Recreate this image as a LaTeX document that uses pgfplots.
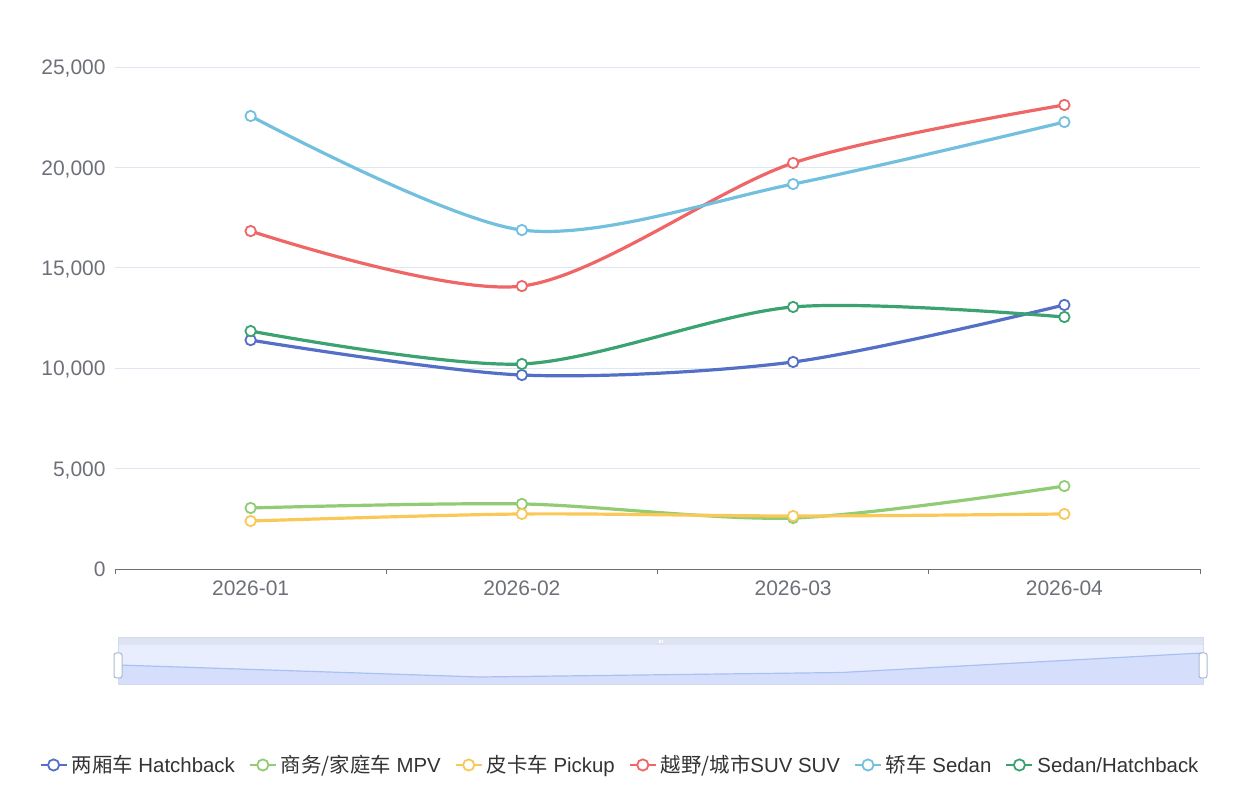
\documentclass[border=0pt]{standalone}
\usepackage{pgfplots}
\pgfplotsset{compat=1.18}
\usepackage{fontspec}
\setmainfont{Liberation Sans}
\newfontfamily\cjk{Noto Sans CJK SC}
\definecolor{cA}{HTML}{5470C6}
\definecolor{cB}{HTML}{91CC75}
\definecolor{cC}{HTML}{FAC858}
\definecolor{cD}{HTML}{EE6666}
\definecolor{cE}{HTML}{73C0DE}
\definecolor{cF}{HTML}{3BA272}
\definecolor{axisgray}{HTML}{6E7079}
\definecolor{gridc}{HTML}{E0E6F1}
\definecolor{textc}{HTML}{333333}
\definecolor{dzbg}{HTML}{E8EEFD}
\definecolor{dzarea}{HTML}{D5DFFB}
\definecolor{dzline}{HTML}{A9C0F2}
\definecolor{dzstrip}{HTML}{DDE3F0}
\definecolor{dzborder}{HTML}{D2DBEE}
\definecolor{dzhandle}{HTML}{ACB8D1}
\begin{document}
\begin{tikzpicture}
\path[use as bounding box] (0,0) rectangle (630pt,399.5pt);
\begin{axis}[
  at={(57.5pt,115pt)}, anchor=south west,
  scale only axis, width=542.5pt, height=251pt,
  xmin=-0.5, xmax=3.5, ymin=0, ymax=25000,
  scaled y ticks=false,
  axis lines*=left,
  axis line style={-},
  y axis line style={draw=none},
  x axis line style={color=axisgray, line width=0.5pt},
  xtick={0,1,2,3},
  xticklabels={2026-01,2026-02,2026-03,2026-04},
  minor xtick={-0.5,0.5,1.5,2.5,3.5},
  major tick length=0pt,
  minor tick length=2.5pt,
  tick align=outside,
  x tick style={color=axisgray, line width=0.5pt},
  y tick style={draw=none},
  ytick={0,5000,10000,15000,20000,25000},
  yticklabels={0,{5,000},{10,000},{15,000},{20,000},{25,000}},
  ymajorgrids,
  major grid style={color=gridc, line width=0.5pt},
  tick label style={font=\fontsize{10.5}{12}\selectfont, text=axisgray},
  yticklabel style={inner sep=0pt, anchor=base east, xshift=-4.5pt, yshift=-3.8pt},
  xticklabel style={inner sep=0pt, anchor=north, yshift=-5.5pt},
  clip=false,
  legend columns=-1,
  legend style={at={(axis description cs:0.4664,-0.3904)}, anchor=center,
    draw=none, fill=none, font=\fontsize{10.2}{12}\selectfont, text=textc,
    /tikz/every even column/.append style={column sep=5pt}},
  legend image code/.code={
    \draw[line width=1pt] (0pt,0pt) -- (13pt,0pt);
    \draw[line width=0.9pt, fill=white] (6.5pt,0pt) circle (2.8pt);
  },
  every axis plot/.append style={line width=1.6pt, smooth, mark=*, mark size=2.6pt,
    mark options={fill=white, line width=0.9pt}},
]
\addplot[color=cA] coordinates {(0,11400) (1,9660) (2,10310) (3,13150)};
\addlegendentry{{\cjk 两厢车} Hatchback}
\addplot[color=cB] coordinates {(0,3040) (1,3240) (2,2540) (3,4130)};
\addlegendentry{{\cjk 商务/家庭车} MPV}
\addplot[color=cC] coordinates {(0,2390) (1,2740) (2,2640) (3,2740)};
\addlegendentry{{\cjk 皮卡车} Pickup}
\addplot[color=cD] coordinates {(0,16830) (1,14090) (2,20220) (3,23110)};
\addlegendentry{{\cjk 越野/城市}SUV SUV}
\addplot[color=cE] coordinates {(0,22560) (1,16880) (2,19170) (3,22260)};
\addlegendentry{{\cjk 轿车} Sedan}
\addplot[color=cF] coordinates {(0,11850) (1,10210) (2,13050) (3,12550)};
\addlegendentry{Sedan/Hatchback\vphantom{\cjk 车}}
\end{axis}
\begin{axis}[
  at={(59pt,57pt)}, anchor=south west,
  scale only axis, width=542.5pt, height=20pt,
  xmin=0, xmax=3, ymin=8500, ymax=14300,
  hide axis, clip=false,
]
\fill[dzbg] (rel axis cs:0,0) rectangle (rel axis cs:1,1);
\addplot[fill=dzarea, draw=none, forget plot] coordinates {(0,8500) (0,11400) (1,9660) (2,10310) (3,13150) (3,8500)};
\addplot[draw=dzline, line width=0.6pt, forget plot] coordinates {(0,11400) (1,9660) (2,10310) (3,13150)};
\fill[dzstrip] (rel axis cs:0,1) rectangle ([yshift=3.5pt]rel axis cs:1,1);
\draw[dzborder, line width=0.5pt] ([yshift=3.5pt]rel axis cs:0,1) rectangle (rel axis cs:1,0);
\draw[white, line width=0.4pt] ([xshift=-0.8pt, yshift=0.9pt]rel axis cs:0.5,1) -- ([xshift=-0.8pt, yshift=2.6pt]rel axis cs:0.5,1);
\draw[white, line width=0.4pt] ([yshift=0.9pt]rel axis cs:0.5,1) -- ([yshift=2.6pt]rel axis cs:0.5,1);
\draw[white, line width=0.4pt] ([xshift=0.8pt, yshift=0.9pt]rel axis cs:0.5,1) -- ([xshift=0.8pt, yshift=2.6pt]rel axis cs:0.5,1);
\draw[dzhandle, fill=white, line width=0.5pt, rounded corners=1.2pt] ([xshift=-2pt]rel axis cs:0,0.175) rectangle ([xshift=2pt]rel axis cs:0,0.8);
\draw[dzhandle, fill=white, line width=0.5pt, rounded corners=1.2pt] ([xshift=-2pt]rel axis cs:1,0.175) rectangle ([xshift=2pt]rel axis cs:1,0.8);
\end{axis}
\end{tikzpicture}
\end{document}
